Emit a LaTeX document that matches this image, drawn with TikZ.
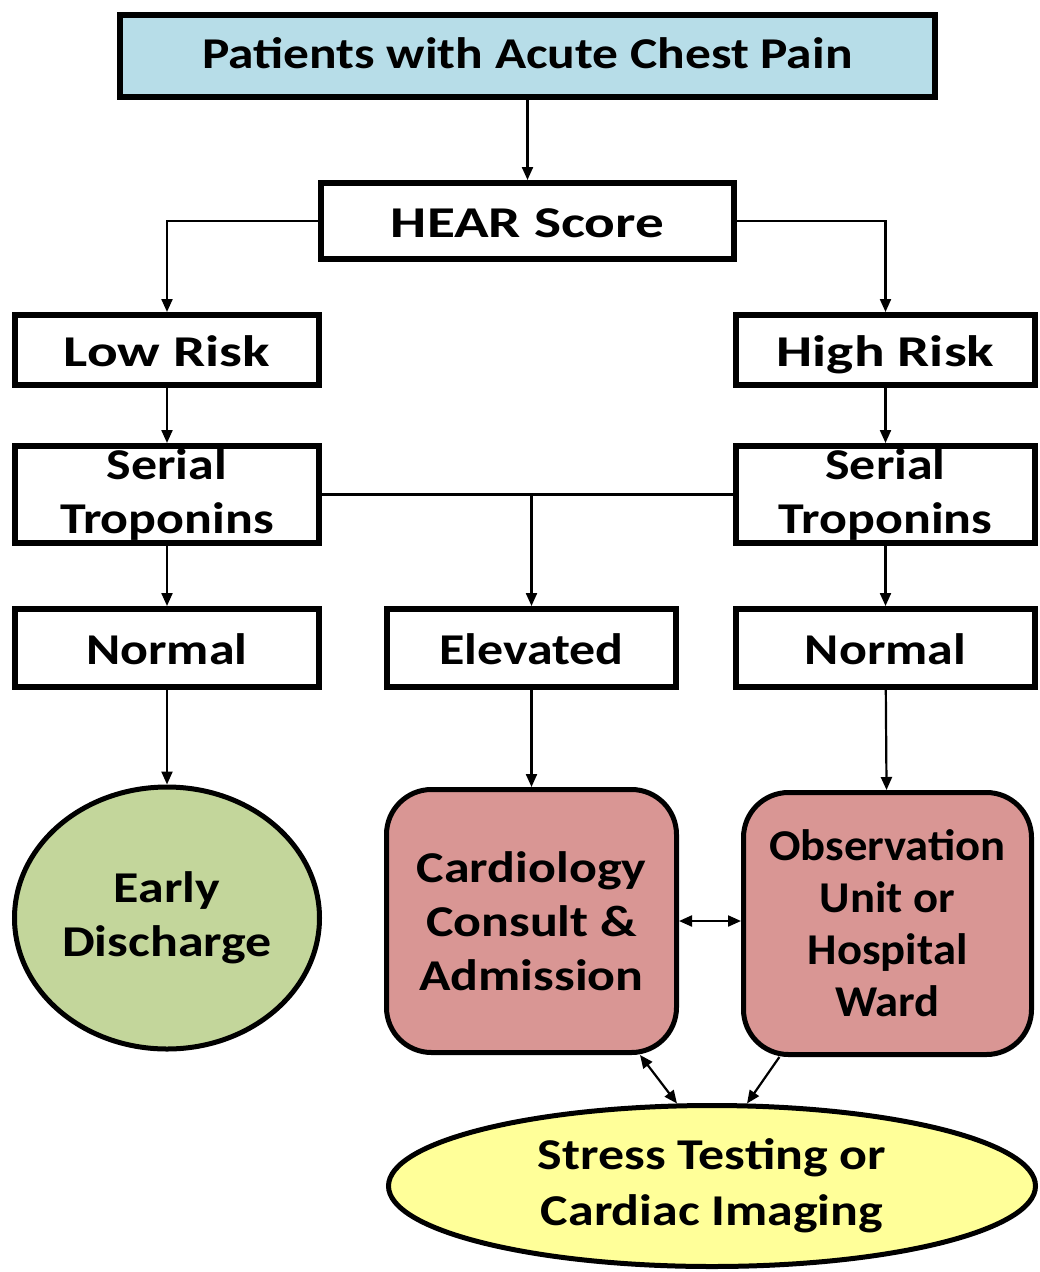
\documentclass[tikz,border=0pt]{standalone}
\usepackage{fontspec}
\setmainfont{Carlito}[FakeStretch=1.18]
\newfontfamily\widefont{Carlito}[FakeStretch=1.3]
\newfontfamily\obsfont{Carlito}[FakeStretch=1.06]
\newfontfamily\topfont{Carlito}[FakeStretch=1.17]
\usetikzlibrary{arrows.meta,shapes.geometric,calc}
\definecolor{topblue}{HTML}{B7DDE8}
\definecolor{greenfill}{HTML}{C3D69B}
\definecolor{pinkfill}{HTML}{D99694}
\definecolor{yellowfill}{HTML}{FFFF99}
\tikzset{
  txt/.style={font=\bfseries\fontsize{44}{54}\selectfont, align=center, text=black},
  box/.style={txt, draw=black, line width=6pt, rectangle, fill=white, inner sep=0pt},
  oneline/.style={text height=36pt, text depth=4pt},
  wide/.style={font=\widefont\bfseries\fontsize{44}{54}\selectfont},
  rbox/.style={box, rounded corners=45pt, fill=pinkfill, line width=5pt},
  ell/.style={txt, draw=black, line width=5pt, ellipse, inner sep=0pt},
  arr/.style={line width=2.2pt, -{Triangle[length=13pt,width=11pt]}},
  darr/.style={line width=2.2pt, {Triangle[length=13pt,width=11pt]}-{Triangle[length=13pt,width=11pt]}},
  conn/.style={line width=2.2pt}
}
\begin{document}
\begin{tikzpicture}[x=1pt,y=-1pt]
\useasboundingbox[fill=white] (0,0) rectangle (1040,1272);
\node[box, text height=32pt, text depth=8pt, fill=topblue, minimum width=815pt, minimum height=82pt, font=\topfont\bfseries\fontsize{44}{54}\selectfont] (top) at (527.5,56) {Patients with Acute Chest Pain};
\node[box, oneline, wide, minimum width=413pt, minimum height=76pt] (hear) at (527.5,221) {HEAR Score};
\node[box, oneline, wide, minimum width=304pt, minimum height=70pt] (low) at (167,350) {Low Risk};
\node[box, oneline, wide, minimum width=299pt, minimum height=70pt] (high) at (885.5,350) {High Risk};
\node[box, minimum width=304pt, minimum height=97pt] (ser1) at (167,494.5) {Serial\\Troponins};
\node[box, minimum width=299pt, minimum height=97pt] (ser2) at (885.5,494.5) {Serial\\Troponins};
\node[box, oneline, minimum width=304pt, minimum height=78pt] (norm1) at (167,648) {Normal};
\node[box, oneline, minimum width=289pt, minimum height=78pt] (elev) at (531.5,648) {Elevated};
\node[box, oneline, minimum width=299pt, minimum height=78pt] (norm2) at (885.5,648) {Normal};
\node[ell, fill=greenfill, minimum width=305pt, minimum height=262pt] (early) at (167,918) {Early\\Discharge};
\node[rbox, minimum width=290pt, minimum height=263pt] (card) at (531.5,921) {Cardiology\\Consult \&\\Admission};
\node[rbox, minimum width=288pt, minimum height=262pt, font=\obsfont\bfseries\fontsize{44}{52}\selectfont] (obs) at (887.5,923.5) {Observation\\Unit or\\Hospital\\Ward};
\node[ell, fill=yellowfill, minimum width=647pt, minimum height=161pt, font=\bfseries\fontsize{44}{56}\selectfont] (stress) at (712,1186) {Stress Testing or\\Cardiac Imaging};

\draw[arr] (top) -- (hear);
\draw[arr] (hear.west) -| (low.north);
\draw[arr] (hear.east) -| (high.north);
\draw[arr] (low) -- (ser1);
\draw[arr] (high) -- (ser2);
\draw[conn] (ser1.east) -- (ser2.west);
\coordinate (j) at (ser1.east -| elev.north);
\draw[arr] (j) -- (elev);
\draw[arr] (ser1) -- (norm1);
\draw[arr] (ser2) -- (norm2);
\draw[arr] (norm1) -- (early);
\draw[arr] (elev) -- (card);
\draw[arr] (norm2) -- (obs);
\draw[darr] (card.east) -- (card.east -| obs.west);
\draw[darr] (card.-51) -- (stress.113);
\draw[arr] (obs.-129) -- (stress.67);
\end{tikzpicture}
\end{document}
